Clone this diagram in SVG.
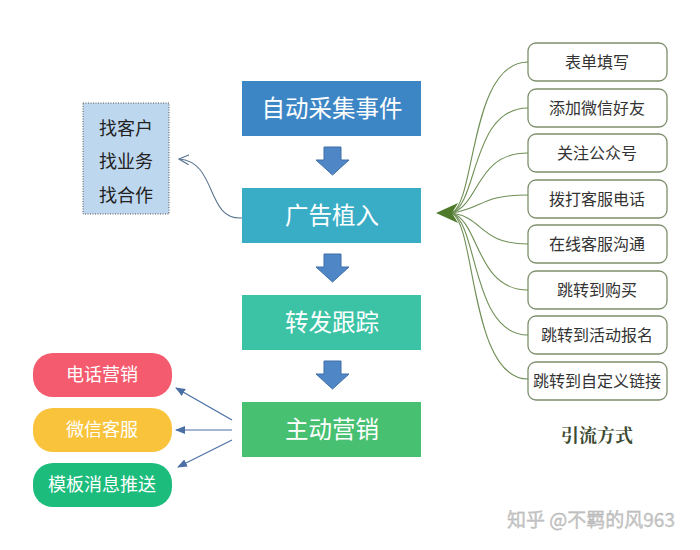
<svg xmlns="http://www.w3.org/2000/svg" width="700" height="550" viewBox="0 0 700 550">
<defs>
<style>
.main text{font-family:"Noto Sans CJK SC","Liberation Sans",sans-serif;font-size:23.5px;fill:#fff;text-anchor:middle}
.down{fill:#4f86c6;stroke:#3f6fa8;stroke-width:1}
.rb rect{fill:#fff;stroke:#7d8f6c;stroke-width:1.3}
.rb text{font-family:"Noto Sans CJK SC","Liberation Sans",sans-serif;font-size:16px;fill:#333;text-anchor:middle}
.pill text{font-family:"Noto Sans CJK SC","Liberation Sans",sans-serif;font-size:18px;fill:#fff;text-anchor:middle}
.gc{fill:none;stroke:#6f8f55;stroke-width:1.1}
.bl{fill:none;stroke:#4a6fa5;stroke-width:1.2}
</style>
<marker id="ah" markerWidth="10" markerHeight="8" refX="9" refY="4" orient="auto" markerUnits="userSpaceOnUse">
<path d="M0,0 L10,4 L0,8 Z" fill="#4a6fa5"/>
</marker>
<marker id="oa" markerWidth="12" markerHeight="12" refX="10" refY="6" orient="auto" markerUnits="userSpaceOnUse">
<path d="M0,1 L10,6 L0,11" fill="none" stroke="#5a7590" stroke-width="1.2"/>
</marker>
</defs>
<rect width="700" height="550" fill="#fff"/>

<g id="n1" class="main"><rect x="242" y="81" width="179" height="55" fill="#3d86c6"/><text x="332" y="117">自动采集事件</text></g>
<g id="n2" class="main"><rect x="242" y="188" width="179" height="55" fill="#39adc6"/><text x="332" y="224">广告植入</text></g>
<g id="n3" class="main"><rect x="242" y="295" width="179" height="55" fill="#3cc3a5"/><text x="332" y="331">转发跟踪</text></g>
<g id="n4" class="main"><rect x="242" y="402" width="179" height="55" fill="#47c072"/><text x="332" y="438">主动营销</text></g>

<g id="left">
<rect x="83" y="103" width="86" height="111" fill="#bdd7ee" stroke="#555" stroke-width="1" stroke-dasharray="1,1.5"/>
<g font-family="Noto Sans CJK SC, Liberation Sans, sans-serif" font-size="18" fill="#222" text-anchor="middle">
<text x="126" y="135">找客户</text>
<text x="126" y="168">找业务</text>
<text x="126" y="202">找合作</text>
</g>
</g>

<g id="r1" class="rb"><rect x="528" y="43" width="139" height="38" rx="8"/><text x="597" y="68">表单填写</text></g>
<g id="r2" class="rb"><rect x="528" y="89" width="139" height="38" rx="8"/><text x="597" y="114">添加微信好友</text></g>
<g id="r3" class="rb"><rect x="528" y="134" width="139" height="38" rx="8"/><text x="597" y="159">关注公众号</text></g>
<g id="r4" class="rb"><rect x="528" y="180" width="139" height="38" rx="8"/><text x="597" y="205">拨打客服电话</text></g>
<g id="r5" class="rb"><rect x="528" y="225" width="139" height="38" rx="8"/><text x="597" y="250">在线客服沟通</text></g>
<g id="r6" class="rb"><rect x="528" y="271" width="139" height="38" rx="8"/><text x="597" y="296">跳转到购买</text></g>
<g id="r7" class="rb"><rect x="528" y="316" width="139" height="38" rx="8"/><text x="597" y="341">跳转到活动报名</text></g>
<g id="r8" class="rb"><rect x="528" y="362" width="139" height="38" rx="8"/><text x="597" y="387">跳转到自定义链接</text></g>

<g id="p1" class="pill"><rect x="33" y="353" width="139" height="44" rx="20" fill="#f45b6e"/><text x="102" y="381">电话营销</text></g>
<g id="p2" class="pill"><rect x="33" y="408" width="139" height="44" rx="20" fill="#f9c43c"/><text x="102" y="436" fill="#fdf3d8">微信客服</text></g>
<g id="p3" class="pill"><rect x="33" y="463" width="139" height="44" rx="20" fill="#1cbc7c"/><text x="102" y="491">模板消息推送</text></g>

<g id="label"><text x="597" y="442" font-family="Noto Serif CJK SC, Noto Sans CJK SC, serif" font-weight="bold" font-size="18" fill="#3b4a30" text-anchor="middle">引流方式</text></g>
<g id="wm"><text x="591" y="527" font-family="Noto Sans CJK SC, Liberation Sans, sans-serif" font-size="19" fill="#c8c8c8" stroke="#aaa" stroke-width="0.3" text-anchor="middle">知乎 @不羁的风963</text></g>

<g id="connectors">
<path class="down" d="M324,147 H341 V160 H349 L332.5,175 L316,160 H324 Z"/>
<path class="down" d="M324,254 H341 V267 H349 L332.5,282 L316,267 H324 Z"/>
<path class="down" d="M324,361 H341 V374 H349 L332.5,389 L316,374 H324 Z"/>

<path d="M242,218 C205,220 218,162 179,159" fill="none" stroke="#5a7590" stroke-width="1.1" marker-end="url(#oa)"/>

<path class="gc" d="M452,213 C476,200 470,62 528,62"/>
<path class="gc" d="M452,213 C478,202 472,108 528,108"/>
<path class="gc" d="M452,213 C480,204 476,153 528,153"/>
<path class="gc" d="M452,213 C484,208 480,195 528,195"/>
<path class="gc" d="M452,213 C484,218 480,244 528,244"/>
<path class="gc" d="M452,213 C480,222 476,290 528,290"/>
<path class="gc" d="M452,213 C478,224 472,335 528,335"/>
<path class="gc" d="M452,213 C476,226 470,379 528,379"/>
<path d="M436,213 L458,203 L452,213 L458,223 Z" fill="#4f7a2c"/>

<line class="bl" x1="232" y1="420" x2="176" y2="388" marker-end="url(#ah)"/>
<line class="bl" x1="232" y1="430" x2="176" y2="430" marker-end="url(#ah)"/>
<line class="bl" x1="232" y1="440" x2="178" y2="467" marker-end="url(#ah)"/>
</g>
</svg>
